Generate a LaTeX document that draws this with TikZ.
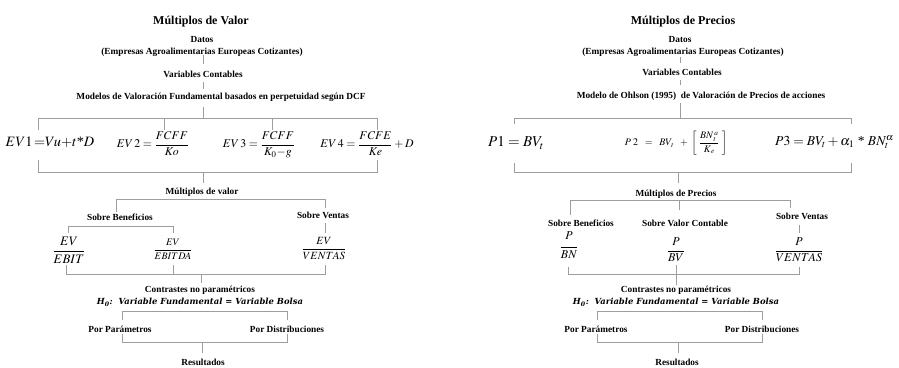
\documentclass[tikz,border=0pt]{standalone}
\usepackage{mathptmx}
\usepackage[no-math]{fontspec}
\setmainfont{Liberation Serif}
\newfontfamily\hfont{DejaVu Serif}
\tikzset{
  ln/.style={draw=black!38, line width=0.9pt},
  ttl/.style={anchor=base, inner sep=0pt, font=\bfseries\fontsize{12}{13}\selectfont},
  lbl/.style={anchor=base, inner sep=0pt, font=\bfseries\fontsize{9.3}{10}\selectfont},
  hyp/.style={anchor=base, inner sep=0pt, font=\hfont\bfseries\itshape\fontsize{8.4}{10}\selectfont},
  eq/.style={anchor=center, inner sep=0pt},
}
\begin{document}
\begin{tikzpicture}[x=1pt,y=-1pt]
\useasboundingbox (0,0) rectangle (899,367);
% ---------------- left panel ----------------
\node[ttl] (lt) at (201,24) {Múltiplos de Valor};
\node[lbl] (ld) at (202,42) {Datos};
\node[lbl] (le) at (202,54) {(Empresas Agroalimentarias Europeas Cotizantes)};
\node[lbl] (lv) at (203,77) {Variables Contables};
\node[lbl] (lm) at (221,99) {Modelos de Valoración Fundamental basados en perpetuidad según DCF};
\node[eq] (ev1) at (50,142) {\fontsize{14.3}{16}\selectfont $EV\mathrm{1}\,{=}Vu{+}t\mbox{*}D$};
\node[eq] (ev2) at (153,144) {\fontsize{11.8}{13}\selectfont $\displaystyle EV\,2=\frac{FCFF}{Ko}$};
\node[eq] (ev3) at (259,145) {\fontsize{11.8}{13}\selectfont $\displaystyle EV\,3=\frac{FCFF}{K_0{-}g}$};
\node[eq] (ev4) at (367,144) {\fontsize{11.8}{13}\selectfont $\displaystyle EV\,4=\frac{FCFE}{Ke}+D$};
\node[lbl] (lmv) at (202,194) {Múltiplos de valor};
\node[lbl] (lsb) at (120,220) {Sobre Beneficios};
\node[lbl] (lsv) at (323,218) {Sobre Ventas};
\node[eq] (f1) at (69,250) {\fontsize{13}{14}\selectfont $\displaystyle\frac{EV}{EBIT}$};
\node[eq] (f2) at (173,249) {\fontsize{10}{12}\selectfont $\displaystyle\frac{EV}{EBITDA}$};
\node[eq] (f3) at (324,249) {\fontsize{11}{12}\selectfont $\displaystyle\frac{EV}{VENTAS}$};
\node[lbl] (lc) at (200,292) {Contrastes no paramétricos};
\node[hyp] (lh) at (200,304.5) {H\textsubscript{0}:\ \ Variable Fundamental = Variable Bolsa};
\node[lbl] (lpp) at (120,332) {Por Parámetros};
\node[lbl] (lpd) at (287,332) {Por Distribuciones};
\node[lbl] (lr) at (203,365) {Resultados};
% connectors left
\draw[ln] (203,55) -- (203,64);
\draw[ln] (203,82) -- (203,89);
\draw[ln] (203,107) -- (203,118);
\draw[ln] (38,130) -- (38,118) -- (377,118) -- (377,130);
\draw[ln] (164,118) -- (164,130);
\draw[ln] (272,118) -- (272,130);
\draw[ln] (38,160) -- (38,172) -- (377,172) -- (377,160);
\draw[ln] (203,172) -- (203,183);
\draw[ln] (116,212) -- (116,199) -- (325,199) -- (325,208);
\draw[ln] (68,233) -- (68,226) -- (173,226) -- (173,233);
\draw[ln] (325,223) -- (325,233);
\draw[ln] (66,265) -- (66,274) -- (325,274) -- (325,265);
\draw[ln] (173,265) -- (173,274);
\draw[ln] (201,274) -- (201,283);
\draw[ln] (122,320) -- (122,311) -- (287,311) -- (287,320);
\draw[ln] (122,334) -- (122,342) -- (287,342) -- (287,334);
\draw[ln] (202,342) -- (202,353);
% ---------------- right panel ----------------
\node[ttl] (rt) at (683,24) {Múltiplos de Precios};
\node[lbl] (rd) at (680,42) {Datos};
\node[lbl] (re) at (683,54) {(Empresas Agroalimentarias Europeas Cotizantes)};
\node[lbl] (rv) at (682,75) {Variables Contables};
\node[lbl] (rm) at (701,98) {Modelo de Ohlson (1995) \ de Valoración de Precios de acciones};
\node[eq, anchor=west] (p1) at (488,143) {\fontsize{15}{16}\selectfont $P1=BV_t$};
\node[eq] (p2) at (676,143) {\fontsize{10}{12}\selectfont $\displaystyle P\;2\;\;=\;\;BV_{\,t}\;\;+\;\left[\;\frac{BN_{\,t}^{\,a}}{K_{\,e}}\;\right]$};
\node[eq, anchor=west] (p3) at (775,142) {\fontsize{13.6}{15}\selectfont $P3=BV_t+\alpha_1{\mbox{ * }}BN_t^{\alpha}$};
\node[lbl] (rmp) at (676,196) {Múltiplos de Precios};
\node[lbl] (rsb) at (581,226) {Sobre Beneficios};
\node[lbl] (rsc) at (685,226) {Sobre Valor Contable};
\node[lbl] (rsv) at (802,219) {Sobre Ventas};
\node[eq] (g1) at (569,245) {\fontsize{12}{14}\selectfont $\displaystyle\frac{P\rule[-6pt]{0pt}{0pt}}{BN}$};
\node[eq] (g2) at (676,250) {\fontsize{12}{14}\selectfont $\displaystyle\frac{P}{BV}$};
\node[eq] (g3) at (799,250) {\fontsize{12}{14}\selectfont $\displaystyle\frac{P}{VENTAS}$};
\node[lbl] (rc) at (676,292) {Contrastes no paramétricos};
\node[hyp] (rh) at (676,304.5) {H\textsubscript{0}:\ \ Variable Fundamental = Variable Bolsa};
\node[lbl] (rpp) at (596,332) {Por Parámetros};
\node[lbl] (rpd) at (762,332) {Por Distribuciones};
\node[lbl] (rr) at (677,365) {Resultados};
% connectors right
\draw[ln] (680,57) -- (680,63);
\draw[ln] (680,80) -- (680,85);
\draw[ln] (680,103) -- (680,118);
\draw[ln] (514,124) -- (514,118) -- (851,118) -- (851,124);
\draw[ln] (514,163) -- (514,172) -- (851,172) -- (851,163);
\draw[ln] (678,172) -- (678,183);
\draw[ln] (570,215) -- (570,200) -- (790,200) -- (790,208);
\draw[ln] (679,200) -- (679,210);
\draw[ln] (799,225) -- (799,233);
\draw[ln] (568,267) -- (568,274) -- (799,274) -- (799,267);
\draw[ln] (676,265) -- (676,285);
\draw[ln] (597,320) -- (597,311) -- (762,311) -- (762,320);
\draw[ln] (597,334) -- (597,342) -- (762,342) -- (762,334);
\draw[ln] (678,342) -- (678,353);
\end{tikzpicture}
\end{document}
